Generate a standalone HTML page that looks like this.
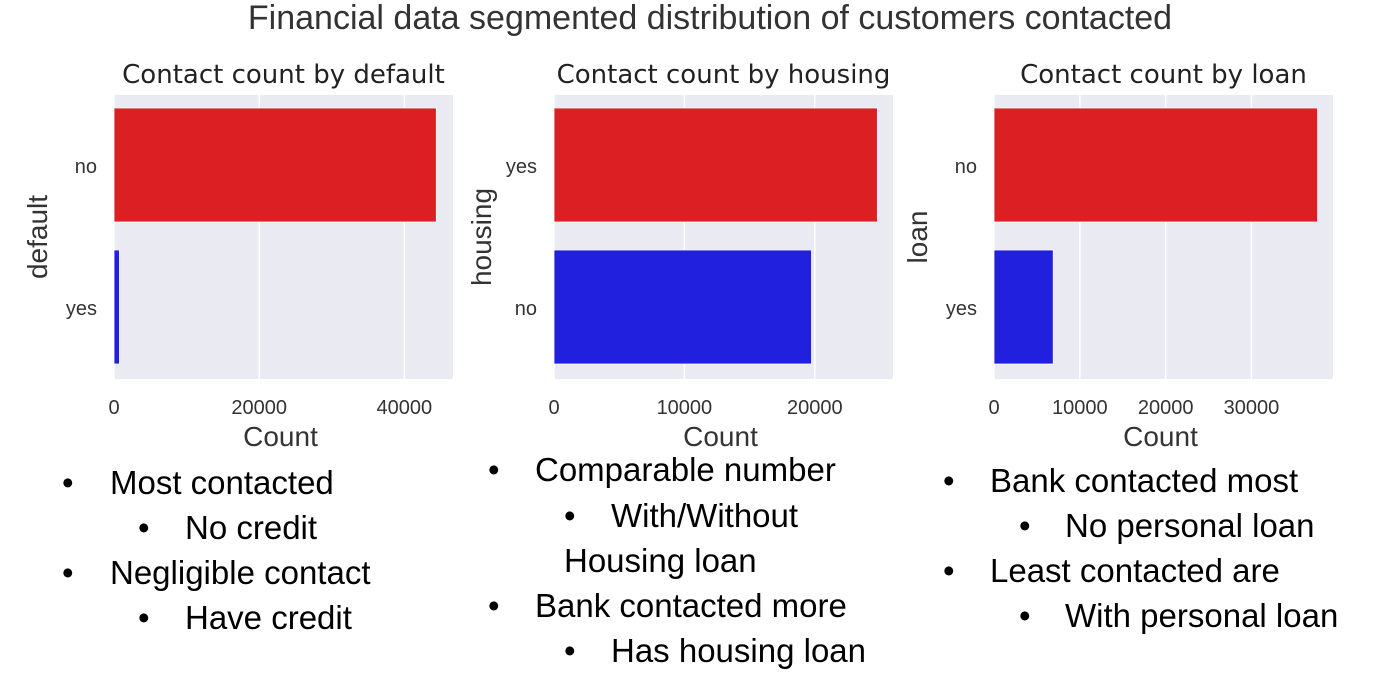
<!DOCTYPE html>
<html><head><meta charset="utf-8"><style>
html,body{margin:0;padding:0;background:#fff;width:1376px;height:696px;overflow:hidden}
svg{display:block}
.b{font-family:"Liberation Sans",sans-serif;font-size:33px;fill:#000}
</style></head><body>
<svg id="chart" width="1376" height="696" xmlns="http://www.w3.org/2000/svg">
<text x="710" y="29" text-anchor="middle" font-family="Liberation Sans, sans-serif" font-size="34" fill="#333">Financial data segmented distribution of customers contacted</text>
<g id="panels"></g>
<g>
<text class="b" x="62" y="494">•</text><text class="b" x="110" y="494">Most contacted</text>
<text class="b" x="138" y="539">•</text><text class="b" x="185" y="539">No credit</text>
<text class="b" x="62" y="584">•</text><text class="b" x="110" y="584">Negligible contact</text>
<text class="b" x="138" y="629">•</text><text class="b" x="185" y="629">Have credit</text>
</g>
<g>
<text class="b" x="488" y="481">•</text><text class="b" x="535" y="481">Comparable number</text>
<text class="b" x="564" y="527">•</text><text class="b" x="611" y="527">With/Without</text>
<text class="b" x="564" y="572">Housing loan</text>
<text class="b" x="488" y="617">•</text><text class="b" x="535" y="617">Bank contacted more</text>
<text class="b" x="564" y="662">•</text><text class="b" x="611" y="662">Has housing loan</text>
</g>
<g>
<text class="b" x="943" y="492">•</text><text class="b" x="990" y="492">Bank contacted most</text>
<text class="b" x="1019" y="537">•</text><text class="b" x="1065" y="537">No personal loan</text>
<text class="b" x="943" y="582">•</text><text class="b" x="990" y="582">Least contacted are</text>
<text class="b" x="1019" y="627">•</text><text class="b" x="1065" y="627">With personal loan</text>
</g>
</svg>
<script>
const titles = ["Contact count by default","Contact count by housing","Contact count by loan"];
const yTitles = ["default","housing","loan"];
const categories = [["no","yes"],["yes","no"],["no","yes"]];
const valuesDefault = [44400, 750];
const valuesHousing = [24800, 19750];
const valuesLoan = [37700, 6900];
const ticksDefault = [0, 20000, 40000];
const ticksHousing = [0, 10000, 20000];
const ticksLoan = [0, 10000, 20000, 30000];
const maxDomain = [46700, 26000, 39500];

const NS = "http://www.w3.org/2000/svg";
const root = document.getElementById("panels");
const panelLeft = [114, 554, 994];
const plotW = 339, plotTop = 95, plotBottom = 379;
const allVals = [valuesDefault, valuesHousing, valuesLoan];
const allTicks = [ticksDefault, ticksHousing, ticksLoan];
const ytx = [38, 482, 918];
const colors = ["#dc1f22", "#2020de"];
function mk(tag, attrs, parent) {
  const e = document.createElementNS(NS, tag);
  for (const k in attrs) e.setAttribute(k, attrs[k]);
  parent.appendChild(e);
  return e;
}
for (let p = 0; p < 3; p++) {
  const g = mk("g", {}, root);
  
  
  const L = panelLeft[p];
  const x = v => L + v / maxDomain[p] * plotW;
  const bg = mk("rect", {x: L, y: plotTop, width: plotW, height: plotBottom - plotTop, fill: "#eaeaf2"}, g);
  
  
  allTicks[p].forEach(t => {
    const gl = mk("line", {x1: x(t), x2: x(t), y1: plotTop, y2: plotBottom, stroke: "#fff", "stroke-width": 1.5}, g);
    
    
    const tl = mk("text", {x: x(t), y: 414, "text-anchor": "middle", "font-family": "Liberation Sans, sans-serif", "font-size": 20, fill: "#333"}, g);
    tl.textContent = t;
    
    
  });
  const band = (plotBottom - plotTop) / 2;
  categories[p].forEach((c, i) => {
    const y0 = plotTop + band * i + 13;
    const r = mk("rect", {x: L, y: y0, width: x(allVals[p][i]) - L, height: band - 28, fill: colors[i], stroke: "#fff", "stroke-width": 0.8}, g);
    
    
    const cl = mk("text", {x: L - 17, y: plotTop + band * i + band / 2 + 7, "text-anchor": "end", "font-family": "Liberation Sans, sans-serif", "font-size": 20, fill: "#333"}, g);
    cl.textContent = c;
    
    
  });
  const t = mk("text", {x: L + plotW / 2, y: 83, "text-anchor": "middle", "font-family": "DejaVu Sans, sans-serif", "font-size": 26, fill: "#222"}, g);
  t.textContent = titles[p];
  
  
  const xt = mk("text", {x: L + plotW / 2 - 3, y: 446, "text-anchor": "middle", "font-family": "Liberation Sans, sans-serif", "font-size": 28, fill: "#333"}, g);
  xt.textContent = "Count";
  
  
  const yt = mk("text", {x: 0, y: 0, "text-anchor": "middle", "font-family": "Liberation Sans, sans-serif", "font-size": 28, fill: "#333", transform: "translate(" + (ytx[p] + 9) + "," + 237 + ") rotate(-90)"}, g);
  yt.textContent = yTitles[p];
  
  
}
</script>
</body></html>
